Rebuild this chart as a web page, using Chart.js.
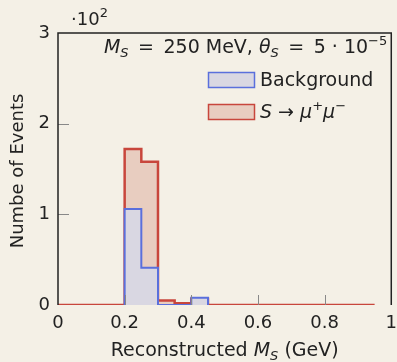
<!DOCTYPE html>
<html>
<head>
<meta charset="utf-8">
<script src="https://cdn.jsdelivr.net/npm/chart.js@4.4.1/dist/chart.umd.min.js"></script>
<style>
  html, body { margin: 0; padding: 0; background: #f4f0e6; }
  #wrap { width: 397px; height: 362px; }
</style>
</head>
<body>
<div id="wrap"><canvas id="histChart" width="397" height="362"></canvas></div>
<script>
// bin edges (GeV); bins go from binEdges[i] to binEdges[i+1]
var binEdges = [0, 0.05, 0.1, 0.15, 0.2, 0.25, 0.3, 0.35, 0.4, 0.45, 0.5, 0.55, 0.6, 0.65, 0.7, 0.75, 0.8, 0.85, 0.9, 0.95];
// counts per bin (events); null = bin not drawn
var signalCounts = [0, 0, 0, 0, 172, 158, 5, 2, 7, 0, 0, 0, 0, 0, 0, 0, 0, 0, 0];
var backgroundCounts = [null, null, null, null, 106, 41, 0, 0, 8, null, null, null, null, null, null, null, null, null, null];
var yTicks = [0, 100, 200, 300];
var xTicks = [0, 0.2, 0.4, 0.6, 0.8, 1];

var FONT = "'DejaVu Sans', sans-serif";
var redLine = '#c8463c', redFill = '#e8cdc0';
var blueLine = '#5a6fdc', blueFill = '#d9d7e2';

// turn bin counts into points for a step line
function toSteps(counts) {
    var pts = [];
    for (var i = 0; i < counts.length; i++) {
        if (counts[i] === null) continue;
        if (pts.length === 0) pts.push({x: binEdges[i], y: 0});
        pts.push({x: binEdges[i], y: counts[i]});
        if (i + 1 >= counts.length || counts[i + 1] === null) pts.push({x: binEdges[i + 1], y: 0});
    }
    return pts;
}

// draw a run of text pieces with mixed styles
function drawRich(ctx, parts, x, y, align) {
    var w = 0;
    parts.forEach(function(p) { ctx.font = p.f; w += ctx.measureText(p.t).width; });
    if (align === 'right') x -= w;
    if (align === 'center') x -= w / 2;
    ctx.textBaseline = 'alphabetic';
    ctx.textAlign = 'left';
    parts.forEach(function(p) {
        ctx.font = p.f;
        ctx.fillText(p.t, x, y + (p.dy || 0));
        x += ctx.measureText(p.t).width;
    });
}

var decor = {
    id: 'decor',
    afterDraw: function(chart) {
        var ctx = chart.ctx, a = chart.chartArea;
        var xs = chart.scales.x, ys = chart.scales.y;
        ctx.save();
        // inward ticks
        ctx.strokeStyle = '#888';
        ctx.lineWidth = 1;
        [100, 200].forEach(function(v) {
            var py = Math.round(ys.getPixelForValue(v)) + 0.5;
            ctx.beginPath(); ctx.moveTo(a.left, py); ctx.lineTo(a.left + 11, py); ctx.stroke();
        });
        [0.2, 0.4, 0.6, 0.8].forEach(function(v) {
            var px = Math.round(xs.getPixelForValue(v)) + 0.5;
            ctx.beginPath(); ctx.moveTo(px, a.bottom); ctx.lineTo(px, a.bottom - 10); ctx.stroke();
        });
        // frame
        ctx.strokeStyle = '#222';
        ctx.lineWidth = 1.5;
        ctx.beginPath();
        ctx.moveTo(a.left, a.bottom); ctx.lineTo(a.left, a.top); ctx.lineTo(a.right, a.top); ctx.lineTo(a.right, a.bottom);
        ctx.stroke();

        ctx.fillStyle = '#222';
        var n = '19px ' + FONT, it = 'italic 19px ' + FONT, sm = '13px ' + FONT, smi = 'italic 13px ' + FONT;
        var sp = '\u2002';
        // exponent
        drawRich(ctx, [{t: '\u00b710', f: '18px ' + FONT}, {t: '2', f: sm, dy: -8}], a.left + 13, 25, 'left');
        // annotation
        drawRich(ctx, [
            {t: 'M', f: it}, {t: 'S', f: smi, dy: 4}, {t: sp + '=' + sp + '250 MeV, ', f: n},
            {t: '\u03b8', f: it}, {t: 'S', f: smi, dy: 4}, {t: sp + '=' + sp + '5 \u00b7 10', f: n}, {t: '\u22125', f: sm, dy: -8}
        ], a.right - 4, 53, 'right');
        // legend
        var items = [
            {ds: chart.data.datasets[0], y: 72, parts: [{t: 'Background', f: n}]},
            {ds: chart.data.datasets[1], y: 104, parts: [{t: 'S', f: it}, {t: ' \u2192 ', f: n}, {t: '\u03bc', f: it}, {t: '+', f: sm, dy: -8}, {t: '\u03bc', f: it}, {t: '\u2212', f: sm, dy: -8}]}
        ];
        items.forEach(function(li) {
            ctx.fillStyle = li.ds.backgroundColor;
            ctx.fillRect(208, li.y, 47, 16);
            ctx.strokeStyle = li.ds.borderColor;
            ctx.lineWidth = 1.5;
            ctx.strokeRect(208.5, li.y + 0.5, 46, 15);
            ctx.fillStyle = '#222';
            drawRich(ctx, li.parts, 260, li.y + 14, 'left');
        });
        // axis titles
        drawRich(ctx, [{t: 'Reconstructed ', f: n}, {t: 'M', f: it}, {t: 'S', f: smi, dy: 4}, {t: ' (GeV)', f: n}], (a.left + a.right) / 2, 356, 'center');
        ctx.translate(23, (a.top + a.bottom) / 2 + 2);
        ctx.rotate(-Math.PI / 2);
        drawRich(ctx, [{t: 'Numbe of Events', f: '18px ' + FONT}], 0, 0, 'center');
        ctx.restore();
    }
};

var ctx = document.getElementById('histChart').getContext('2d');
var histChart = new Chart(ctx, {
    type: 'line',
    data: {
        datasets: [{
            label: 'Background',
            data: toSteps(backgroundCounts),
            stepped: 'before',
            borderColor: blueLine,
            backgroundColor: blueFill,
            borderWidth: 2,
            fill: 'origin',
            pointRadius: 0
        }, {
            label: 'Signal',
            data: toSteps(signalCounts),
            stepped: 'before',
            borderColor: redLine,
            backgroundColor: redFill,
            borderWidth: 2.5,
            fill: 'origin',
            pointRadius: 0
        }]
    },
    options: {
        responsive: false,
        animation: false,
        layout: { padding: { top: 33, right: 5, left: 0, bottom: 0 } },
        plugins: { legend: { display: false }, tooltip: { enabled: false } },
        scales: {
            x: {
                type: 'linear', min: 0, max: 1,
                afterBuildTicks: function(s) { s.ticks = xTicks.map(function(v) { return {value: v}; }); },
                afterFit: function(s) { s.height = 57; },
                grid: { display: false },
                border: { display: false },
                ticks: { color: '#222', font: { family: FONT, size: 18 }, padding: 0, maxRotation: 0,
                         callback: function(v) { return String(v); } }
            },
            y: {
                min: 0, max: 300,
                afterBuildTicks: function(s) { s.ticks = yTicks.map(function(v) { return {value: v}; }); },
                afterFit: function(s) { s.width = 58; },
                grid: { display: false },
                border: { display: false },
                ticks: { color: '#222', font: { family: FONT, size: 18 }, padding: 0,
                         callback: function(v) { return String(v / 100); } }
            }
        }
    },
    plugins: [decor]
});
</script>
</body>
</html>
